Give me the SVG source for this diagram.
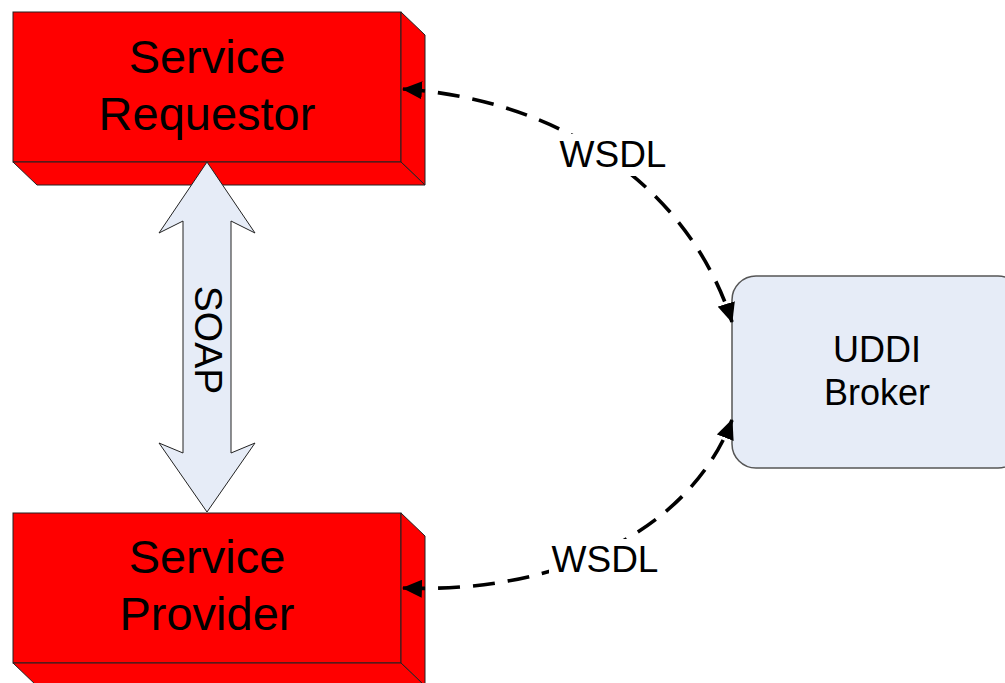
<svg xmlns="http://www.w3.org/2000/svg" width="1005" height="683" viewBox="0 0 1005 683">
<style>
.face{fill:#FF0000;stroke:#222;stroke-width:1;stroke-linejoin:miter}
.big{font-family:"Liberation Sans",Arial,sans-serif;font-size:47px;fill:#000;text-anchor:middle}
.mid{font-family:"Liberation Sans",Arial,sans-serif;font-size:36px;fill:#000;text-anchor:middle}
.lbl{font-family:"Liberation Sans",Arial,sans-serif;font-size:37px;fill:#000;text-anchor:middle}
.conn{fill:none;stroke:#000;stroke-width:3.6;stroke-dasharray:22 13}
</style>
<defs>
<marker id="ah" viewBox="0 0 20 18" refX="19" refY="9" markerWidth="20" markerHeight="18" markerUnits="userSpaceOnUse" orient="auto-start-reverse">
<path d="M0,0 L20,9 L0,18 z" fill="#000"/>
</marker>
</defs>
<rect x="0" y="0" width="1005" height="683" fill="#fff"/>
<g id="requestor">
<rect class="face" x="13" y="12" width="388" height="150"/>
<polygon class="face" points="401,12 425,35 425,185 401,162"/>
<polygon class="face" points="13,162 401,162 425,185 37,185"/>
<text class="big" x="207" y="73">Service</text>
<text class="big" x="207" y="130">Requestor</text>
</g>
<g id="provider">
<rect class="face" x="13" y="513" width="388" height="150"/>
<polygon class="face" points="401,513 425,536 425,686 401,663"/>
<polygon class="face" points="13,663 401,663 425,686 37,686"/>
<text class="big" x="207" y="573">Service</text>
<text class="big" x="207" y="630">Provider</text>
</g>
<g id="soap">
<polygon points="207,162 255,233 231,221 231,453 255,443 207,512 159,443 183,453 183,221 159,233" fill="#E6ECF7" stroke="#222" stroke-width="1"/>
<text class="lbl" transform="translate(195,340) rotate(90)" x="0" y="0" style="font-size:39px">SOAP</text>
</g>
<g id="uddi">
<rect x="732" y="276" width="290" height="192" rx="24" ry="24" fill="#E6ECF7" stroke="#555" stroke-width="1.5"/>
<text class="mid" x="877" y="362">UDDI</text>
<text class="mid" x="877" y="405">Broker</text>
</g>
<g id="connectors">
<path class="conn" d="M403,89 C565,100 690,190 732,322" marker-start="url(#ah)" marker-end="url(#ah)"/>
<path class="conn" d="M403,588 C560,594 690,530 732,420" marker-start="url(#ah)" marker-end="url(#ah)"/>
<rect x="556" y="134" width="116" height="42" fill="#fff"/>
<text class="lbl" x="613" y="167">WSDL</text>
<rect x="549" y="539" width="113" height="40" fill="#fff"/>
<text class="lbl" x="605" y="572">WSDL</text>
</g>
</svg>
